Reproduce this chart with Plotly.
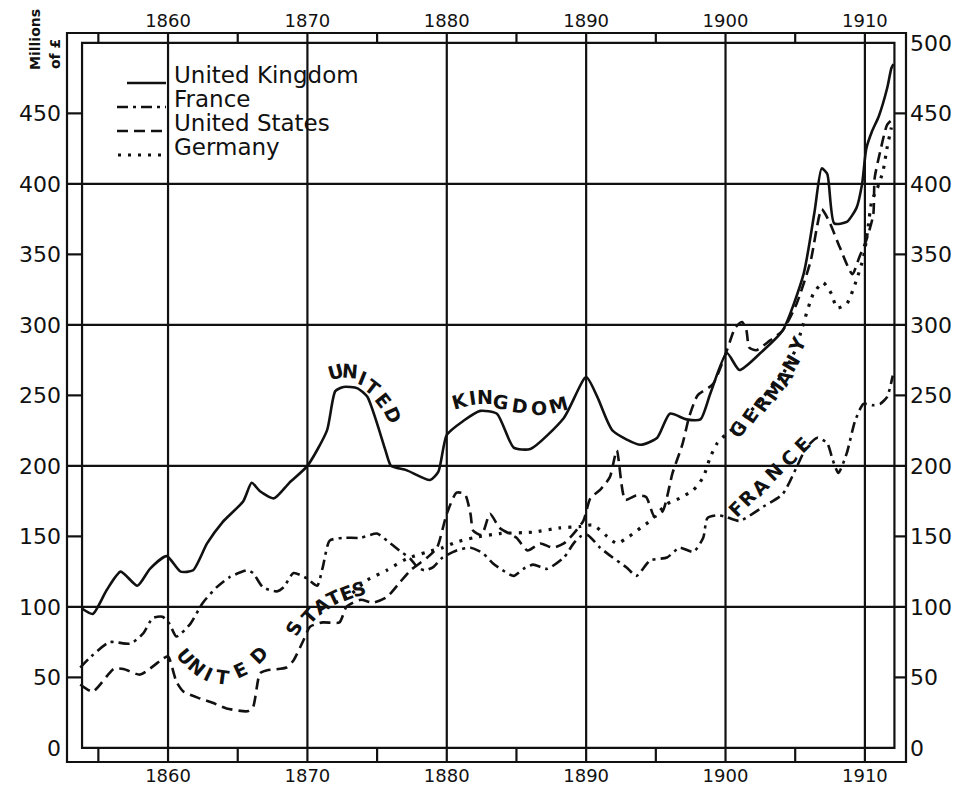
import plotly.graph_objects as go

# ---------------- data (millions of £) ----------------
year_ticks = [1860, 1870, 1880, 1890, 1900, 1910]
left_ticks = [0, 50, 100, 150, 200, 250, 300, 350, 400, 450]
right_ticks = [0, 50, 100, 150, 200, 250, 300, 350, 400, 450, 500]

uk_year = [1853.8, 1854.6, 1855.6, 1856.6, 1857.8, 1858.7, 1859.9, 1860.9, 1861.8, 1862.8,
           1863.9, 1865.4, 1866.0, 1866.6, 1867.6, 1868.7, 1870.0, 1871.4, 1872.0, 1872.6,
           1873.6, 1874.3, 1875.0, 1875.6, 1876.0, 1877.1, 1878.8, 1879.4, 1880.0, 1881.2,
           1882.4, 1883.6, 1884.8, 1886.0, 1888.4, 1890.0, 1890.8, 1891.9, 1893.9, 1895.1,
           1896.0, 1897.2, 1898.2, 1898.9, 1900.1, 1901.0, 1902.5, 1904.1, 1905.6, 1906.4,
           1906.9, 1907.3, 1907.8, 1908.7, 1909.4, 1909.8, 1910.1, 1910.5, 1911.0, 1911.6,
           1911.9, 1912.05]
uk_value = [99, 95, 112, 125, 115, 127, 136, 125, 126, 145,
            160, 175, 188, 182, 177, 188, 200, 225, 253, 256,
            255, 249, 230, 211, 200, 197, 190, 196, 222, 232,
            239, 237, 213, 212, 234, 263, 249, 225, 215, 220,
            237, 233, 233, 251, 280, 268, 280, 296, 336, 381,
            411, 407, 372, 373, 383, 400, 425, 437, 448, 468,
            482, 485]

fr_year = [1853.7, 1854.5, 1855.8, 1857.3, 1858.2, 1858.9, 1859.6, 1860.1, 1860.6, 1861.6,
           1862.5, 1863.5, 1864.4, 1865.7, 1866.1, 1866.8, 1867.8, 1868.3, 1869.0, 1870.0,
           1870.7, 1871.1, 1871.6, 1872.6, 1873.8, 1875.0, 1875.7, 1876.6, 1877.4, 1877.9,
           1878.4, 1879.0, 1879.7, 1880.7, 1881.7, 1882.6, 1883.3, 1884.0, 1884.8, 1885.5,
           1886.2, 1887.2, 1888.4, 1889.1, 1889.6, 1890.1, 1891.0, 1891.9, 1892.9, 1893.6,
           1894.6, 1895.8, 1896.7, 1897.7, 1898.4, 1898.7, 1899.4, 1900.0, 1901.0, 1902.7,
           1904.1, 1905.1, 1905.8, 1906.6, 1907.3, 1907.7, 1908.1, 1908.7, 1909.3, 1909.9,
           1910.6, 1911.1, 1911.6, 1912.0]
fr_value = [57, 65, 75, 74, 81, 92, 93, 88, 79, 88,
            103, 114, 121, 126, 124, 114, 111, 114, 124, 120,
            115, 128, 147, 149, 149, 152, 147, 140, 134, 128,
            126, 128, 135, 140, 142, 138, 131, 126, 122, 127,
            130, 127, 135, 145, 150, 151, 142, 135, 128, 122,
            133, 135, 142, 139, 149, 163, 165, 164, 161, 171,
            180, 199, 213, 220, 216, 204, 195, 209, 232, 244,
            243, 244, 249, 264]

us_year = [1853.7, 1854.6, 1856.1, 1856.8, 1858.0, 1859.6, 1860.0, 1860.6, 1861.1, 1862.3,
           1863.2, 1864.2, 1865.7, 1866.1, 1866.6, 1867.1, 1868.5, 1869.0, 1869.7, 1870.2,
           1871.1, 1872.3, 1872.8, 1873.8, 1874.7, 1875.7, 1876.6, 1877.4, 1878.6, 1879.3,
           1880.0, 1880.7, 1881.3, 1881.7, 1881.9, 1882.5, 1883.1, 1883.8, 1885.0, 1885.8,
           1886.7, 1887.6, 1888.4, 1889.1, 1889.8, 1890.3, 1891.0, 1891.7, 1892.2, 1892.8,
           1893.6, 1894.3, 1894.9, 1895.5, 1896.2, 1896.9, 1897.4, 1898.0, 1899.1, 1900.1,
           1900.7, 1901.2, 1901.5, 1901.7, 1902.2, 1903.2, 1904.1, 1905.1, 1906.1, 1906.9,
           1907.5, 1908.2, 1909.1, 1909.6, 1910.1, 1910.6, 1910.7, 1911.1, 1911.6, 1912.0]
us_value = [45, 40, 56, 56, 52, 63, 65, 47, 40, 35,
            32, 28, 26, 29, 53, 55, 57, 62, 76, 86,
            89, 89, 100, 105, 103, 107, 117, 126, 135, 142,
            166, 181, 180, 166, 154, 151, 166, 156, 149, 140,
            145, 142, 145, 152, 161, 177, 183, 192, 211, 176,
            179, 178, 164, 168, 195, 215, 235, 250, 258, 282,
            298, 302, 296, 284, 282, 289, 296, 315, 345, 382,
            372, 355, 336, 348, 360, 378, 404, 423, 442, 446]

de_year = [1872.0, 1873.0, 1874.3, 1875.7, 1877.1, 1878.6, 1879.7, 1880.7, 1881.9, 1883.8,
           1886.2, 1888.1, 1889.6, 1890.5, 1891.5, 1892.2, 1893.1, 1893.9, 1894.6, 1895.8,
           1896.7, 1897.7, 1898.4, 1898.9, 1899.4, 1900.1, 1901.0, 1902.7, 1904.1, 1905.0,
           1905.5, 1906.3, 1907.0, 1907.6, 1908.0, 1908.7, 1909.3, 1909.9, 1910.2, 1910.5,
           1910.9, 1911.3, 1911.6, 1911.9]
de_value = [103, 108, 119, 126, 134, 139, 142, 146, 149, 152,
            153, 156, 157, 158, 150, 145, 150, 156, 161, 173,
            177, 183, 192, 206, 216, 223, 230, 249, 265, 282,
            298, 322, 330, 322, 312, 315, 329, 348, 367, 388,
            397, 409, 426, 440]

# ---------------- geometry (window pixels; page body has an 8px margin) ----------------
OFF = 8
PL, PR, PT, PB = 67, 906, 33, 762          # outer frame in window pixels
W, H = 971 - OFF, 786 - OFF
ML, MT = PL - OFF, PT - OFF
MR, MB = W - (PR - OFF), H - (PB - OFF)
X0, X1 = 1852.75, 1912.95
Y0, Y1 = -10, 507
IN_L, IN_R, IN_B, IN_T = 1853.83, 1912.12, 0, 500


def px_x(px):
    return X0 + (px - PL) / (PR - PL) * (X1 - X0)


def px_y(py):
    return Y1 - (py - PT) / (PB - PT) * (Y1 - Y0)


def paper_x(px):
    return (px - PL) / (PR - PL)


def paper_y(py):
    return 1 - (py - PT) / (PB - PT)


INK = "#111111"
FONT = "DejaVu Sans"

fig = go.Figure()

line_common = dict(color=INK, width=2.6, shape="spline", smoothing=0.6)
fig.add_trace(go.Scatter(x=uk_year, y=uk_value, mode="lines", name="United Kingdom",
                         line=dict(**line_common, dash="solid")))
fig.add_trace(go.Scatter(x=fr_year, y=fr_value, mode="lines", name="France",
                         line=dict(**line_common, dash="11px,5px,3px,5px")))
fig.add_trace(go.Scatter(x=us_year, y=us_value, mode="lines", name="United States",
                         line=dict(**line_common, dash="11px,6px")))
fig.add_trace(go.Scatter(x=de_year, y=de_value, mode="lines", name="Germany",
                         line=dict(color=INK, width=3.2, shape="spline", smoothing=0.6,
                                   dash="3px,7px")))
# dummy trace to activate the secondary (top / right) axes
fig.add_trace(go.Scatter(x=[None], y=[None], xaxis="x2", yaxis="y2", showlegend=False,
                         hoverinfo="skip"))

shapes = []
lw = 2.2
# outer frame
shapes.append(dict(type="rect", xref="paper", yref="paper", x0=0, x1=1, y0=0, y1=1,
                   line=dict(color=INK, width=lw), layer="above"))
# inner frame
shapes.append(dict(type="rect", xref="x", yref="y", x0=IN_L, x1=IN_R, y0=IN_B, y1=IN_T,
                   line=dict(color=INK, width=lw), layer="below"))
# vertical grid lines through bands
for yv in year_ticks:
    shapes.append(dict(type="line", xref="x", yref="paper", x0=yv, x1=yv, y0=0, y1=1,
                       line=dict(color=INK, width=lw), layer="below"))
# horizontal grid lines through bands
for v in [100, 200, 300, 400]:
    shapes.append(dict(type="line", xref="paper", yref="y", x0=0, x1=1, y0=v, y1=v,
                       line=dict(color=INK, width=lw), layer="below"))
# band ticks (half decades / half hundreds)
for yv in [1855, 1865, 1875, 1885, 1895, 1905]:
    shapes.append(dict(type="line", xref="x", yref="y", x0=yv, x1=yv, y0=Y0, y1=IN_B,
                       line=dict(color=INK, width=lw), layer="below"))
    shapes.append(dict(type="line", xref="x", yref="y", x0=yv, x1=yv, y0=IN_T, y1=Y1,
                       line=dict(color=INK, width=lw), layer="below"))
for v in [50, 150, 250, 350, 450]:
    shapes.append(dict(type="line", xref="x", yref="y", x0=X0, x1=IN_L, y0=v, y1=v,
                       line=dict(color=INK, width=lw), layer="below"))
    shapes.append(dict(type="line", xref="x", yref="y", x0=IN_R, x1=X1, y0=v, y1=v,
                       line=dict(color=INK, width=lw), layer="below"))

# hand-drawn legend (samples + text)
legend_rows = [
    ("United Kingdom", "solid", 127, 83, 2.6),
    ("France", "11px,5px,3px,5px", 117, 107, 2.6),
    ("United States", "11px,6px", 117, 131, 2.6),
    ("Germany", "3px,7px", 118, 155, 3.2),
]
annotations = []
for text, dash, x_start, y_px, w in legend_rows:
    shapes.append(dict(type="line", xref="x", yref="y", x0=px_x(x_start), x1=px_x(166),
                       y0=px_y(y_px), y1=px_y(y_px),
                       line=dict(color=INK, width=w, dash=dash), layer="above"))
    annotations.append(dict(x=px_x(173), y=px_y(y_px - 8), xref="x", yref="y",
                            text=text, showarrow=False, xanchor="left", yanchor="middle",
                            borderpad=0,
                            font=dict(family=FONT, size=23, color=INK)))

# curved in-chart labels, letter by letter
letter_labels = [
    ("UNITED", [(335, 372, -15), (350, 371, 5), (362, 378, 22), (372, 387, 38),
                (383, 400, 52), (393, 415, 65)]),
    ("KINGDOM", [(460, 401, -15), (472, 398, -8), (485, 397, 0), (501, 402, 8),
                 (520, 406, 8), (539, 408, 2), (558, 405, -15)]),
    ("UNITED", [(185, 656, 50), (197, 667, 40), (208, 674, 25), (222, 677, 8),
                (240, 670, -25), (259, 655, -45)]),
    ("STATES", [(294, 628, -60), (309, 616, -48), (321, 606, -35), (333, 598, -25),
                (346, 593, -20), (359, 589, -15)]),
    ("GERMANY", [(738, 429, -55), (750, 416, -55), (762, 404, -55), (774, 391, -55),
                 (784, 378, -58), (791, 363, -60), (797, 345, -65)]),
    ("FRANCE", [(736, 509, -45), (747, 498, -45), (760, 487, -45), (774, 472, -45),
                (789, 458, -45), (802, 445, -45)]),
]
for word, pos in letter_labels:
    for ch, (lx, ly, ang) in zip(word, pos):
        annotations.append(dict(x=px_x(lx), y=px_y(ly), xref="x", yref="y", text=ch,
                                showarrow=False, textangle=ang, xanchor="center",
                                yanchor="middle",
                                font=dict(family=FONT, size=19, color=INK, weight="bold")))

# axis title (rotated, top-left corner)
annotations.append(dict(x=paper_x(35), y=paper_y(40), xref="paper", yref="paper",
                        text="Millions", showarrow=False, textangle=-90,
                        xanchor="center", yanchor="middle",
                        font=dict(family=FONT, size=14, color=INK, weight="bold")))
annotations.append(dict(x=paper_x(55), y=paper_y(54), xref="paper", yref="paper",
                        text="of £", showarrow=False, textangle=-90,
                        xanchor="center", yanchor="middle",
                        font=dict(family=FONT, size=14, color=INK, weight="bold")))

tick_font_x = dict(family=FONT, size=18, color=INK)
tick_font_y = dict(family=FONT, size=22, color=INK)

axis_common = dict(showgrid=False, zeroline=False, showline=False, ticks="",
                   automargin=False, tickmode="array")

fig.update_layout(
    template="none",
    width=W, height=H,
    margin=dict(l=ML, r=MR, t=MT, b=MB, pad=0, autoexpand=False),
    paper_bgcolor="white", plot_bgcolor="white",
    showlegend=False,
    shapes=shapes,
    annotations=annotations,
    xaxis=dict(range=[X0, X1], tickvals=year_ticks,
               ticktext=[str(v) for v in year_ticks], ticklabelstandoff=1,
               tickfont=tick_font_x, side="bottom", **axis_common),
    xaxis2=dict(range=[X0, X1], overlaying="x", matches="x", side="top",
                tickvals=year_ticks, ticktext=[str(v) for v in year_ticks],
                ticklabelstandoff=1, tickfont=tick_font_x, **axis_common),
    yaxis=dict(range=[Y0, Y1], tickvals=left_ticks,
               ticktext=[str(v) for v in left_ticks], ticklabelstandoff=5,
               tickfont=tick_font_y, **axis_common),
    yaxis2=dict(range=[Y0, Y1], overlaying="y", matches="y", side="right",
                tickvals=right_ticks, ticktext=[str(v) for v in right_ticks],
                ticklabelstandoff=3, tickfont=tick_font_y, **axis_common),
)

fig.write_html("out.html")
